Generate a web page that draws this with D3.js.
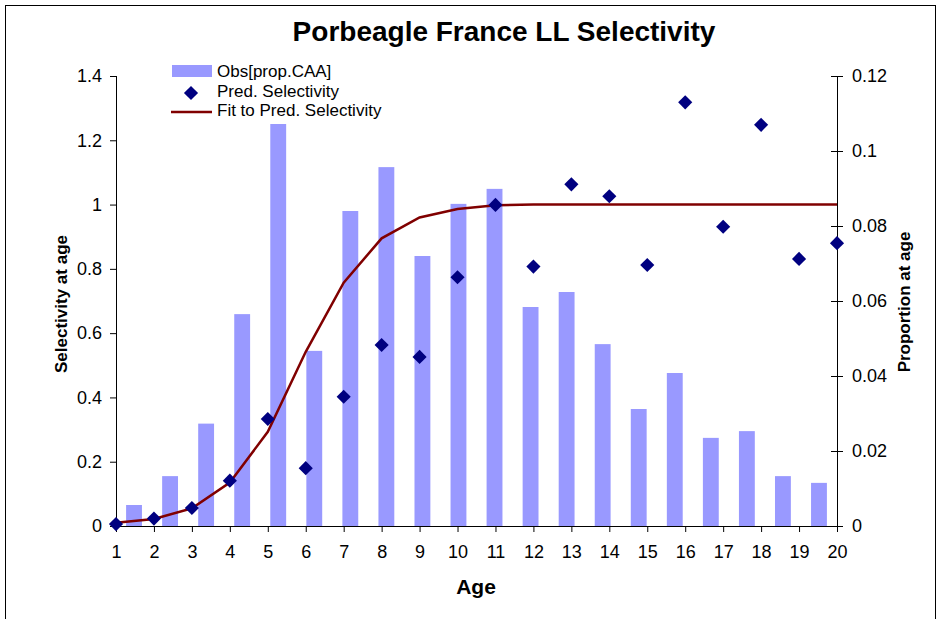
<!DOCTYPE html>
<html>
<head>
<meta charset="utf-8">
<script src="https://cdn.jsdelivr.net/npm/d3@7/dist/d3.min.js"></script>
<style>
    body { margin: 0; background: #fff; }
    #chart { width: 939px; height: 619px; }
    text { font-family: Arial, "Liberation Sans", sans-serif; fill: #000; }
</style>
</head>
<body>
<div id="chart"></div>
<script>
// Data
const ages = d3.range(1, 21);
const obsPropCAA = [0.0056, 0.0133, 0.0273, 0.0565, 0.1072, 0.0467, 0.084, 0.0957, 0.072, 0.0859,
    0.0899, 0.0584, 0.0624, 0.0485, 0.0312, 0.0408, 0.0235, 0.0253, 0.0133, 0.0115];
const predSelectivity = [0.006, 0.023, 0.056, 0.141, 0.333, 0.18, 0.402, 0.563, 0.526, 0.774,
    0.999, 0.807, 1.063, 1.026, 0.812, 1.318, 0.931, 1.248, 0.831, 0.88];
const fitSelectivity = [0.01, 0.022, 0.055, 0.135, 0.293, 0.542, 0.757, 0.895, 0.96, 0.986,
    0.998, 1.0, 1.0, 1.0, 1.0, 1.0, 1.0, 1.0, 1.0, 1.0];
const leftTicks = [0, 0.2, 0.4, 0.6, 0.8, 1, 1.2, 1.4];
const rightTicks = [0, 0.02, 0.04, 0.06, 0.08, 0.1, 0.12];

const width = 939, height = 619;
const margin = { top: 76, right: 102, bottom: 93, left: 116 };
const plotW = width - margin.left - margin.right;
const plotH = height - margin.top - margin.bottom;

const svg = d3.select('#chart')
    .append('svg')
    .attr('width', width)
    .attr('height', height);

// outer frame
svg.append('rect')
    .attr('x', 5.5).attr('y', 5.5)
    .attr('width', 930).attr('height', 630)
    .attr('fill', 'none')
    .attr('stroke', '#000')
    .attr('stroke-width', 1);

// title
svg.append('text')
    .attr('x', 504)
    .attr('y', 41)
    .attr('text-anchor', 'middle')
    .style('font-size', '28px')
    .style('font-weight', 'bold')
    .text('Porbeagle France LL Selectivity');

const g = svg.append('g')
    .attr('transform', 'translate(' + margin.left + ',' + margin.top + ')');

const xPoint = d3.scalePoint().domain(ages).range([0, plotW]);
const xBand = d3.scaleBand().domain(ages).range([0, plotW]).paddingInner(0.56).paddingOuter(0.28);
const yLeft = d3.scaleLinear().domain([0, 1.4]).range([plotH, 0]);
const yRight = d3.scaleLinear().domain([0, 0.12]).range([plotH, 0]);

// bars
g.append('g')
    .selectAll('rect')
    .data(obsPropCAA)
    .join('rect')
    .attr('x', (d, i) => xBand(ages[i]))
    .attr('y', d => yRight(d))
    .attr('width', xBand.bandwidth())
    .attr('height', d => plotH - yRight(d))
    .attr('fill', '#9999FF');

// x axis
const xAxis = g.append('g')
    .attr('transform', 'translate(0,' + plotH + ')')
    .call(d3.axisBottom(xPoint).tickSize(6).tickPadding(13));
xAxis.selectAll('text').style('font-size', '18px');
xAxis.select('.domain').attr('d', 'M0,0.5H' + plotW);

// left axis
const leftAxis = g.append('g')
    .call(d3.axisLeft(yLeft).tickValues(leftTicks).tickSize(6).tickPadding(8)
        .tickFormat(d => d3.format('')(+d.toFixed(1))));
leftAxis.selectAll('text').style('font-size', '18px');
leftAxis.select('.domain').attr('d', 'M0.5,0V' + plotH);

// right axis, ticks cross the line
const rightAxis = g.append('g')
    .attr('transform', 'translate(' + plotW + ',0)')
    .call(d3.axisRight(yRight).tickValues(rightTicks).tickSize(6).tickPadding(9)
        .tickFormat(d => d3.format('')(+d.toFixed(2))));
rightAxis.selectAll('.tick line').attr('x1', -6);
rightAxis.selectAll('text').style('font-size', '18px');
rightAxis.select('.domain').attr('d', 'M0.5,0V' + plotH);

// fitted line
const line = d3.line()
    .x((d, i) => xPoint(ages[i]))
    .y(d => yLeft(d));
g.append('path')
    .attr('fill', 'none')
    .attr('stroke', '#800000')
    .attr('stroke-width', 2.5)
    .attr('d', line(fitSelectivity));

// predicted points
const diamond = d3.symbol().type(d3.symbolSquare).size(100);
g.append('g')
    .selectAll('path')
    .data(predSelectivity)
    .join('path')
    .attr('transform', (d, i) => 'translate(' + xPoint(ages[i]) + ',' + yLeft(d) + ') rotate(45)')
    .attr('d', diamond)
    .attr('fill', '#000080');

// axis titles
svg.append('text')
    .attr('transform', 'translate(67,304) rotate(-90)')
    .attr('text-anchor', 'middle')
    .style('font-size', '17px')
    .style('font-weight', 'bold')
    .text('Selectivity at age');

svg.append('text')
    .attr('transform', 'translate(910,302) rotate(-90)')
    .attr('text-anchor', 'middle')
    .style('font-size', '17px')
    .style('font-weight', 'bold')
    .text('Proportion at age');

svg.append('text')
    .attr('x', 476)
    .attr('y', 594)
    .attr('text-anchor', 'middle')
    .style('font-size', '21px')
    .style('font-weight', 'bold')
    .text('Age');

// legend
const legend = svg.append('g').attr('transform', 'translate(171,71)');
legend.append('rect')
    .attr('x', 1).attr('y', -6)
    .attr('width', 40).attr('height', 12)
    .attr('fill', '#9999FF');
legend.append('path')
    .attr('transform', 'translate(20,22) rotate(45)')
    .attr('d', diamond)
    .attr('fill', '#000080');
legend.append('line')
    .attr('x1', 0).attr('x2', 41)
    .attr('y1', 41).attr('y2', 41)
    .attr('stroke', '#800000')
    .attr('stroke-width', 2.5);
legend.selectAll('text')
    .data(['Obs[prop.CAA]', 'Pred. Selectivity', 'Fit to Pred. Selectivity'])
    .join('text')
    .attr('x', 46)
    .attr('y', (d, i) => i * 19.5 + 6)
    .style('font-size', '17px')
    .text(d => d);
</script>
</body>
</html>
